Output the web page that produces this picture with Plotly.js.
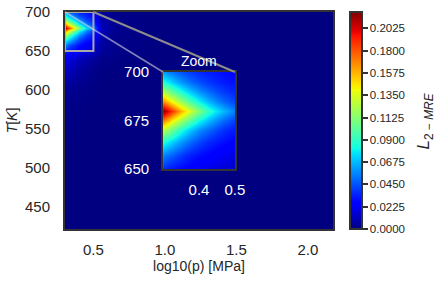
<!DOCTYPE html>
<html>
<head>
<meta charset="utf-8">
<script src="https://cdn.plot.ly/plotly-3.0.1.min.js"></script>
<style>html,body{margin:0;padding:0;background:#fff;}#chart{width:440px;height:281px;}</style>
</head>
<body>
<div id="chart"></div>
<script>
// log10(p) sample positions (cell centres)
const logP = [0.301, 0.325, 0.35, 0.375, 0.40, 0.425, 0.45, 0.475, 0.50, 0.55, 0.65, 0.8, 1.0, 1.5, 2.176];
// temperature sample positions [K]
const tempK = [421, 520, 580, 605, 625, 640, 650, 657, 664, 670, 675, 680, 685, 690, 695, 700];
// L2-MRE values, one row per temperature
const errorZ = [
  [0,0,0,0,0,0,0,0,0,0,0,0,0,0,0],
  [0,0,0,0,0,0,0,0,0,0,0,0,0,0,0],
  [0.002,0.002,0.001,0.001,0.001,0.001,0,0,0,0,0,0,0,0,0],
  [0.006,0.005,0.004,0.003,0.003,0.002,0.002,0.001,0.001,0,0,0,0,0,0],
  [0.014,0.012,0.010,0.008,0.006,0.005,0.004,0.003,0.002,0.001,0,0,0,0,0],
  [0.022,0.019,0.016,0.013,0.011,0.009,0.008,0.006,0.005,0.002,0.001,0,0,0,0],
  [0.036,0.031,0.028,0.025,0.022,0.020,0.018,0.016,0.014,0.005,0.002,0.001,0,0,0],
  [0.056,0.048,0.040,0.034,0.030,0.027,0.024,0.021,0.019,0.006,0.002,0.001,0,0,0],
  [0.085,0.072,0.060,0.050,0.042,0.036,0.032,0.029,0.026,0.007,0.002,0.001,0,0,0],
  [0.126,0.105,0.085,0.070,0.058,0.050,0.042,0.036,0.032,0.008,0.002,0.001,0,0,0],
  [0.168,0.141,0.118,0.097,0.080,0.067,0.056,0.047,0.040,0.010,0.003,0.001,0,0,0],
  [0.217,0.188,0.158,0.133,0.110,0.090,0.076,0.064,0.054,0.012,0.003,0.001,0,0,0],
  [0.165,0.139,0.116,0.095,0.079,0.066,0.055,0.047,0.041,0.010,0.003,0.001,0,0,0],
  [0.121,0.100,0.083,0.069,0.058,0.050,0.043,0.038,0.034,0.008,0.002,0.001,0,0,0],
  [0.085,0.072,0.060,0.051,0.044,0.039,0.035,0.032,0.030,0.007,0.002,0.001,0,0,0],
  [0.061,0.052,0.045,0.040,0.036,0.033,0.031,0.029,0.027,0.006,0.002,0.001,0,0,0]
];
const xTicks = [0.5, 1.0, 1.5, 2.0];
const xTickText = ['0.5', '1.0', '1.5', '2.0'];
const yTicks = [450, 500, 550, 600, 650, 700];
const insetXTicks = [0.4, 0.5];
const insetXTickText = ['0.4', '0.5'];
const insetYTicks = [650, 675, 700];
const cbTicks = [0, 0.0225, 0.045, 0.0675, 0.09, 0.1125, 0.135, 0.1575, 0.18, 0.2025];
const cbTickText = ['0.0000','0.0225','0.0450','0.0675','0.0900','0.1125','0.1350','0.1575','0.1800','0.2025'];

const jet = [[0,'rgb(0,0,128)'],[0.11,'rgb(0,0,255)'],[0.125,'rgb(0,0,255)'],[0.34,'rgb(0,219,255)'],
  [0.35,'rgb(0,229,247)'],[0.375,'rgb(20,255,226)'],[0.64,'rgb(239,255,8)'],[0.65,'rgb(247,245,0)'],
  [0.66,'rgb(255,236,0)'],[0.89,'rgb(255,19,0)'],[0.91,'rgb(232,0,0)'],[1,'rgb(128,0,0)']];

const FONT = 'Liberation Sans, Arial, sans-serif';
const dark = '#262626';
const frame = '#333333';

const mainTrace = {type:'heatmap', x: logP, y: tempK, z: errorZ, zsmooth:'best', coloraxis:'coloraxis', xaxis:'x', yaxis:'y', hoverinfo:'skip'};
const insetTrace = {type:'heatmap', x: logP, y: tempK, z: errorZ, zsmooth:'best', coloraxis:'coloraxis', xaxis:'x2', yaxis:'y2', hoverinfo:'skip'};

const insetDomX = [0.366, 0.634];
const insetDomY = [0.2765, 0.7235];
const rectRight = (0.5 - 0.301) / (2.176 - 0.301);

const layout = {
  width: 440, height: 281,
  margin: {l: 65, r: 107, t: 12, b: 52},
  paper_bgcolor: '#fff', plot_bgcolor: '#fff',
  font: {family: FONT, color: dark, size: 15},
  showlegend: false,
  xaxis: {range: [0.301, 2.176], tickmode:'array', tickvals: xTicks, ticktext: xTickText,
    showgrid:false, zeroline:false, showline:true, mirror:true, linecolor: frame, linewidth: 2,
    ticks:'', ticklabelstandoff: 6, tickfont:{size:15, color: dark},
    title:{text:'log10(p) [MPa]', font:{size:14, color: dark}, standoff: 3}},
  yaxis: {range: [421, 700], tickmode:'array', tickvals: yTicks,
    showgrid:false, zeroline:false, showline:true, mirror:true, linecolor: frame, linewidth: 2,
    ticks:'', ticklabelstandoff: 10, tickfont:{size:15, color: dark},
    title:{text:'<i>T</i>[<i>K</i>]', font:{size:14, color: dark}, standoff: 4}},
  xaxis2: {domain: insetDomX, anchor:'y2', range:[0.3, 0.5], tickmode:'array', tickvals: insetXTicks, ticktext: insetXTickText,
    showgrid:false, zeroline:false, showline:true, mirror:true, linecolor: frame, linewidth: 2,
    ticks:'', ticklabelstandoff: 6, tickfont:{size:15, color:'#ffffff'}},
  yaxis2: {domain: insetDomY, anchor:'x2', range:[650, 700], tickmode:'array', tickvals: insetYTicks,
    showgrid:false, zeroline:false, showline:true, mirror:true, linecolor: frame, linewidth: 2,
    ticks:'', ticklabelstandoff: 9, tickfont:{size:15, color:'#ffffff'}},
  coloraxis: {colorscale: jet, cmin: 0, cmax: 0.219,
    colorbar: {x: 1.0634, xanchor:'left', xref:'paper', y: 0.5, yanchor:'middle', len: 1, lenmode:'fraction',
      thickness: 12, xpad: 0, ypad: 0, outlinewidth: 2, outlinecolor: frame,
      ticks:'outside', ticklen: 5, tickwidth: 2, tickcolor: frame,
      tickmode:'array', tickvals: cbTicks, ticktext: cbTickText,
      tickfont:{size:11.5, color: dark}}},
  shapes: [
    {type:'rect', xref:'x', yref:'y', x0:0.301, x1:0.5, y0:650, y1:700, line:{color:'#a8a8a8', width:2}},
    {type:'line', xref:'paper', yref:'paper', x0:0, y0:1, x1:insetDomX[0], y1:insetDomY[1], line:{color:'rgba(215,215,225,0.6)', width:1.5}},
    {type:'line', xref:'paper', yref:'paper', x0:rectRight, y0:1, x1:insetDomX[1], y1:insetDomY[1], line:{color:'#8c8c8c', width:2}}
  ],
  annotations: [
    {text:'Zoom', xref:'paper', yref:'paper', x:(insetDomX[0]+insetDomX[1])/2, y:insetDomY[1], yanchor:'bottom', xanchor:'center',
     yshift: 1, showarrow:false, font:{size:14, color:'#ffffff'}},
    {text:'<i>L</i><sub>2 − <i>MRE</i></sub>', xref:'paper', yref:'paper', x:1.343, y:0.50, xanchor:'center', yanchor:'middle',
     textangle:-90, showarrow:false, font:{size:17, color: dark}}
  ]
};

Plotly.newPlot('chart', [mainTrace, insetTrace], layout, {staticPlot:true, displayModeBar:false});
</script>
</body>
</html>
